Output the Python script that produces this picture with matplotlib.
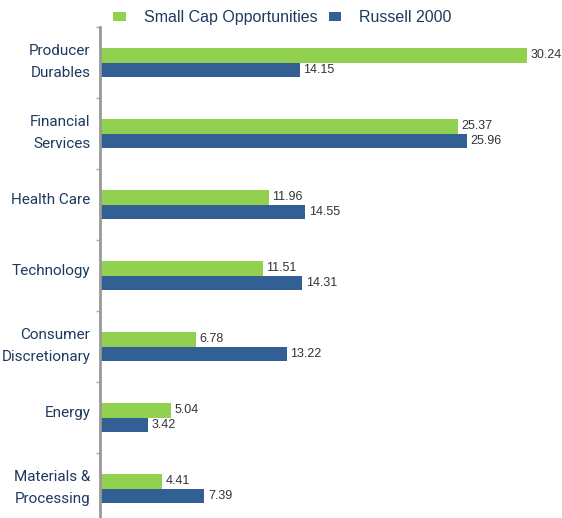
import matplotlib
matplotlib.use("Agg")
import matplotlib.pyplot as plt
import matplotlib.transforms as mtransforms
import numpy as np

CATEGORIES = ["Producer\nDurables", "Financial\nServices", "Health Care", "Technology",
              "Consumer\nDiscretionary", "Energy", "Materials &\nProcessing"]
SMALL_CAP = [30.24, 25.37, 11.96, 11.51, 6.78, 5.04, 4.41]
RUSSELL = [14.15, 25.96, 14.55, 14.31, 13.22, 3.42, 7.39]

GREEN = "#92d050"
BLUE = "#336094"
NAVY = "#1f3a5f"

plt.rcParams["font.family"] = ["Liberation Sans", "DejaVu Sans"]

fig = plt.figure(figsize=(5.62, 5.18), dpi=100)
ax = fig.add_axes([100 / 562, -6 / 518, 462 / 562, 497 / 518])

y = np.arange(len(CATEGORIES))
h = 0.21
ax.barh(y - h / 2, SMALL_CAP, height=h, color=GREEN, label="Small Cap Opportunities")
ax.barh(y + h / 2, RUSSELL, height=h, color=BLUE, label="Russell 2000")

for i, (a, b) in enumerate(zip(SMALL_CAP, RUSSELL)):
    ax.text(a + 0.25, i - h / 2, f"{a:.2f}", va="center", ha="left", fontsize=9, color="#333333")
    ax.text(b + 0.25, i + h / 2, f"{b:.2f}", va="center", ha="left", fontsize=9, color="#333333")

ax.set_ylim(len(CATEGORIES) - 0.5, -0.5)
ax.set_xlim(0, 462 / 14.12)
ax.set_yticks(y)
ax.set_yticklabels(CATEGORIES, fontsize=11, color=NAVY, linespacing=1.75,
                   family=["Roboto", "DejaVu Sans"])
ax.tick_params(axis="y", length=0, pad=7)
# nudge category labels up a little
offset = mtransforms.ScaledTranslation(0, 6 / 100, fig.dpi_scale_trans)
for lbl in ax.get_yticklabels():
    lbl.set_transform(lbl.get_transform() + offset)
ax.set_yticks(np.arange(len(CATEGORIES) + 1) - 0.5, minor=True)
ax.tick_params(axis="y", which="minor", length=3, color="#aaaaaa", width=1)
ax.set_xticks([])
for s in ["top", "right", "bottom"]:
    ax.spines[s].set_visible(False)
ax.spines["left"].set_color("#999999")
ax.spines["left"].set_linewidth(2)

fig.legend(loc="upper left", bbox_to_anchor=(99 / 562, 1.008), ncol=2, frameon=False,
           handlelength=0.8, handleheight=0.45, columnspacing=0.7,
           handletextpad=1.1, labelcolor=NAVY, fontsize=11.5)

fig.savefig("out.png", dpi=100)
